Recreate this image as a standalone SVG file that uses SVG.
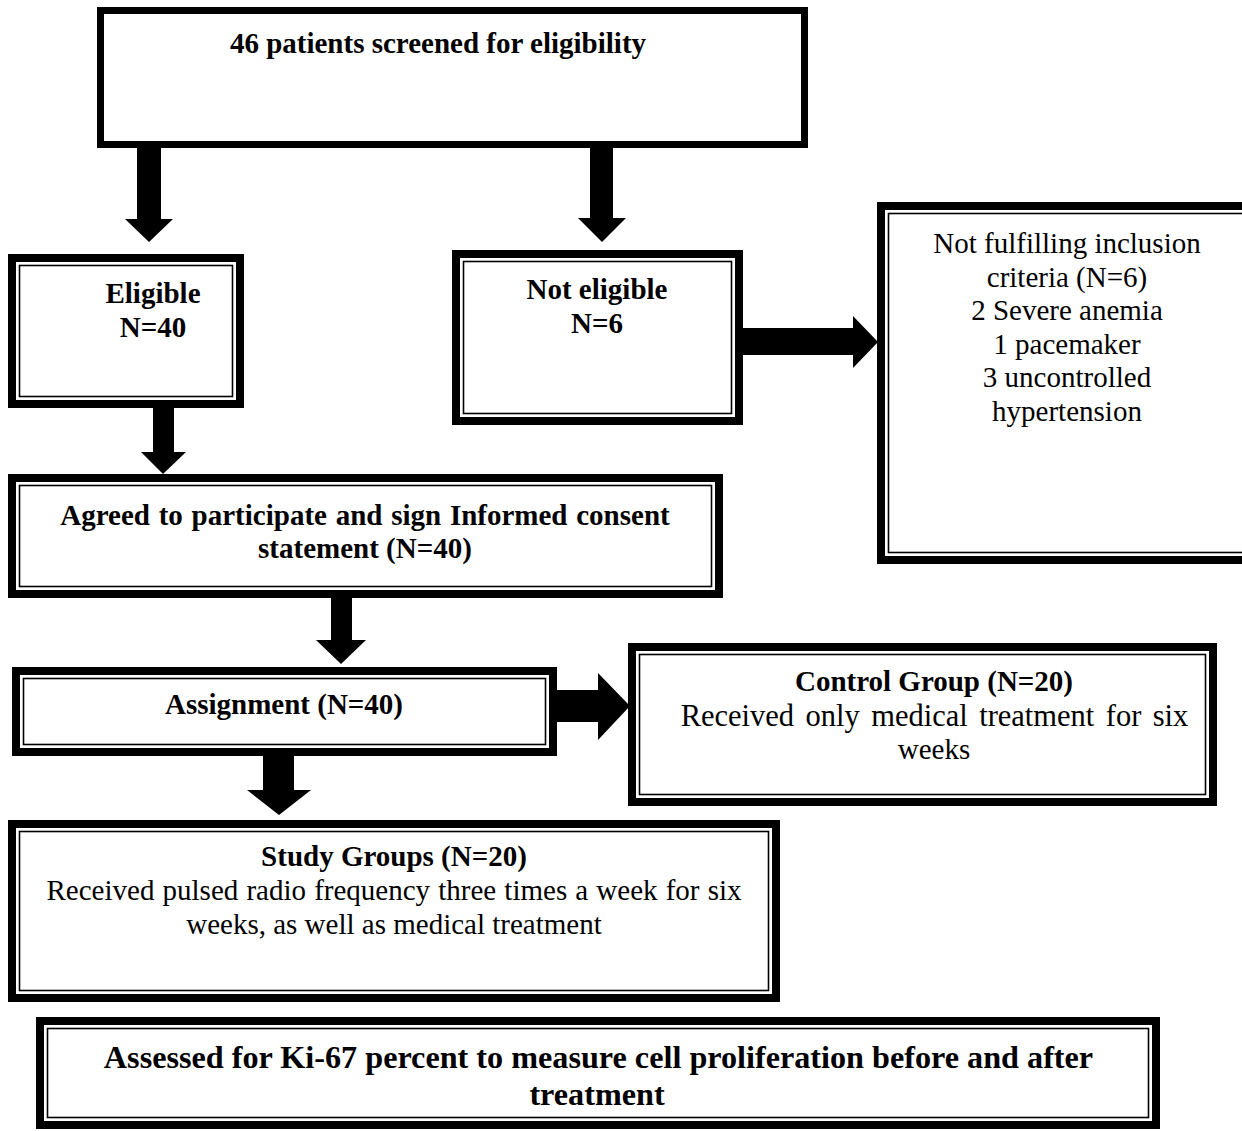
<svg xmlns="http://www.w3.org/2000/svg" width="1242" height="1131" viewBox="0 0 1242 1131">
<style>
.thick{fill:#fff;stroke:#000;stroke-width:8}
.thin{fill:none;stroke:#000;stroke-width:1.6}
.single{fill:#fff;stroke:#000;stroke-width:7}
text{font-family:"Liberation Serif","Times New Roman",serif;font-size:29px;fill:#000;text-anchor:middle}
.b{font-weight:bold}
.big{font-size:32.2px}
.mid{font-size:30.5px;word-spacing:3.8px}
.arrow{fill:#000;stroke:none}
</style>
<rect width="1242" height="1131" fill="#fff"/>
<g id="connectors">
<polygon class="arrow" points="137,148 161,148 161,219 173,219 149,242 125,219 137,219"/>
<polygon class="arrow" points="590,148 613,148 613,218 626,218 602,242 578,218 590,218"/>
<polygon class="arrow" points="743,328 853,328 853,316 878,342 853,368 853,355 743,355"/>
<polygon class="arrow" points="153,408 174,408 174,452 186,452 163,474 141,452 153,452"/>
<polygon class="arrow" points="331,598 352,598 352,640 366,640 341,664 316,640 331,640"/>
<polygon class="arrow" points="557,690 598,690 598,673 630,706 598,740 598,722 557,722"/>
<polygon class="arrow" points="263,756 294,756 294,790 311,790 279,815 247,790 263,790"/>
</g>
<g id="node-screened">
<rect class="single" x="100.5" y="10.5" width="704" height="134"/>
<text class="b" x="438" y="53">46 patients screened for eligibility</text>
</g>
<g id="node-eligible">
<rect class="thick" x="12" y="258" width="228" height="146"/>
<rect class="thin" x="19.5" y="265.5" width="213" height="131"/>
<text class="b" x="153" y="303">Eligible</text>
<text class="b" x="153" y="337">N=40</text>
</g>
<g id="node-not-eligible">
<rect class="thick" x="456" y="254" width="283" height="167"/>
<rect class="thin" x="463.5" y="261.5" width="268" height="152"/>
<text class="b" x="597" y="299">Not eligible</text>
<text class="b" x="597" y="333">N=6</text>
</g>
<g id="node-exclusion">
<rect class="thick" x="881" y="206" width="380" height="354"/>
<rect class="thin" x="888.5" y="213.5" width="365" height="339"/>
<text x="1067" y="253">Not fulfilling inclusion</text>
<text x="1067" y="287">criteria (N=6)</text>
<text x="1067" y="320">2 Severe anemia</text>
<text x="1067" y="354">1 pacemaker</text>
<text x="1067" y="387">3 uncontrolled</text>
<text x="1067" y="421">hypertension</text>
</g>
<g id="node-consent">
<rect class="thick" x="12" y="478" width="707" height="116"/>
<rect class="thin" x="19.5" y="485.5" width="692" height="101"/>
<text class="b" x="365" y="525" word-spacing="1.5">Agreed to participate and sign Informed consent</text>
<text class="b" x="365" y="558">statement (N=40)</text>
</g>
<g id="node-assignment">
<rect class="thick" x="16" y="671" width="537" height="81"/>
<rect class="thin" x="23.5" y="678.5" width="522" height="66"/>
<text class="b" x="284" y="714">Assignment (N=40)</text>
</g>
<g id="node-control">
<rect class="thick" x="632" y="647" width="581" height="155"/>
<rect class="thin" x="639.5" y="654.5" width="566" height="140"/>
<text class="b" x="934" y="691">Control Group (N=20)</text>
<text class="mid" x="934.5" y="726">Received only medical treatment for six</text>
<text x="934" y="759">weeks</text>
</g>
<g id="node-study">
<rect class="thick" x="12" y="824" width="764" height="174"/>
<rect class="thin" x="19.5" y="831.5" width="749" height="159"/>
<text class="b" x="394" y="866">Study Groups (N=20)</text>
<text x="394" y="900" word-spacing="0.9">Received pulsed radio frequency three times a week for six</text>
<text x="394" y="934">weeks, as well as medical treatment</text>
</g>
<g id="node-ki67">
<rect class="thick" x="40" y="1021" width="1116" height="104"/>
<rect class="thin" x="47.5" y="1028.5" width="1101" height="89"/>
<text class="b big" x="598.5" y="1068">Assessed for Ki-67 percent to measure cell proliferation before and after</text>
<text class="b big" x="597" y="1105">treatment</text>
</g>
</svg>
